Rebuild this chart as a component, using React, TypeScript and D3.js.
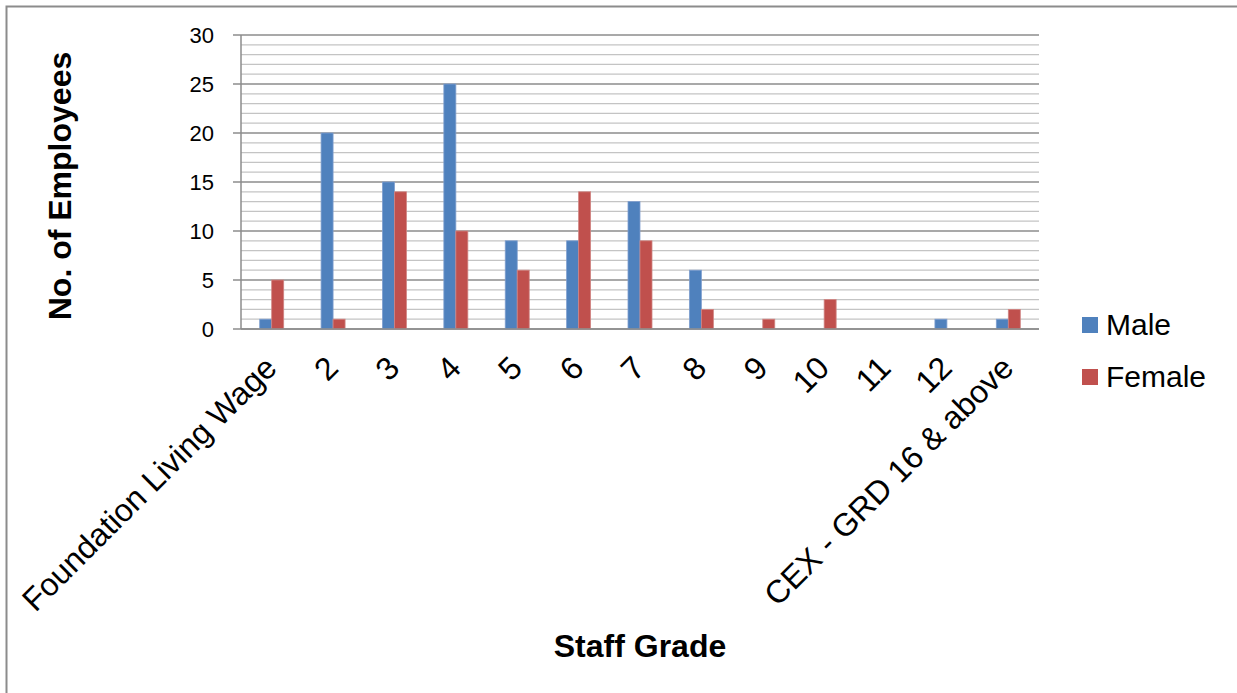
import React from 'react';
import * as d3 from 'd3';

const categories = [
  'Foundation Living Wage', '2', '3', '4', '5', '6', '7', '8', '9', '10', '11', '12',
  'CEX - GRD 16 & above',
];
const maleValues = [1, 20, 15, 25, 9, 9, 13, 6, 0, 0, 0, 1, 1];
const femaleValues = [5, 1, 14, 10, 6, 14, 9, 2, 1, 3, 0, 0, 2];
const yTicks = [0, 5, 10, 15, 20, 25, 30];
const seriesNames = ['Male', 'Female'];

const WIDTH = 1237;
const HEIGHT = 693;
const FONT = '"Liberation Sans", Arial, sans-serif';
const COLORS = ['#4F81BD', '#C0504D'];
const STROKES = ['#7f9fcf', '#d08583'];

const App = () => {
  const x = d3.scaleBand<string>().domain(categories).range([241, 1039]);
  const y = d3.scaleLinear().domain([0, 30]).range([329, 35]);
  const minor = d3.range(0, 31);
  const barW = 12;
  const series = [maleValues, femaleValues];

  return (
    <div style={{ position: 'absolute', left: 0, top: 0 }}>
      <svg width={WIDTH} height={HEIGHT} style={{ display: 'block', background: '#fff' }}>
        {/* outer frame */}
        <rect x={6.5} y={6.5} width={1400} height={900} fill="none" stroke="#8c8c8c" strokeWidth={2} />

        {/* minor gridlines */}
        {minor.filter(v => v % 5 !== 0).map(v => (
          <line key={'m' + v} x1={241} x2={1039} y1={y(v)} y2={y(v)} stroke="#c4c4c4" strokeWidth={1.3} />
        ))}
        {/* major gridlines + ticks */}
        {yTicks.map(v => (
          <g key={'t' + v}>
            <line x1={233} x2={1039} y1={y(v)} y2={y(v)} stroke="#8c8c8c" strokeWidth={1.5} />
            <text x={214} y={y(v)} dy="0.35em" textAnchor="end" fontFamily={FONT} fontSize={22} fill="#000">
              {v}
            </text>
          </g>
        ))}
        <line x1={241} x2={241} y1={35} y2={329} stroke="#8c8c8c" strokeWidth={1.5} />

        {/* bars */}
        {series.map((vals, si) =>
          vals.map((v, i) => {
            const cx = (x(categories[i]) as number) + x.bandwidth() / 2;
            if (v === 0) return null;
            return (
              <rect
                key={si + '-' + i}
                x={si === 0 ? cx - barW : cx}
                y={y(v)}
                width={barW}
                height={y(0) - y(v)}
                fill={COLORS[si]}
                stroke={STROKES[si]}
                strokeWidth={0.8}
              />
            );
          })
        )}
        <line x1={241} x2={1039} y1={y(0)} y2={y(0)} stroke="#8c8c8c" strokeWidth={1.5} />

        {/* category labels */}
        {categories.map(c => {
          const cx = (x(c) as number) + x.bandwidth() / 2;
          return (
            <text
              key={'c' + c}
              transform={`translate(${cx - 1},${362}) rotate(-45)`}
              textAnchor="end"
              dy="0.35em"
              fontFamily={FONT}
              fontSize={32}
              fill="#000"
            >
              {c}
            </text>
          );
        })}

        {/* axis titles */}
        <text
          transform="translate(71,186) rotate(-90)"
          textAnchor="middle"
          fontFamily={FONT}
          fontWeight="bold"
          fontSize={32}
          fill="#000"
        >
          No. of Employees
        </text>
        <text x={640} y={657} textAnchor="middle" fontFamily={FONT} fontWeight="bold" fontSize={32} fill="#000">
          Staff Grade
        </text>

        {/* legend */}
        {seriesNames.map((s, i) => (
          <g key={s} transform={`translate(1082,${317 + i * 52})`}>
            <rect x={0} y={0} width={16} height={16} fill={COLORS[i]} />
            <text x={24} y={18} fontFamily={FONT} fontSize={30} fill="#000">
              {s}
            </text>
          </g>
        ))}
      </svg>
    </div>
  );
};

export default App;
